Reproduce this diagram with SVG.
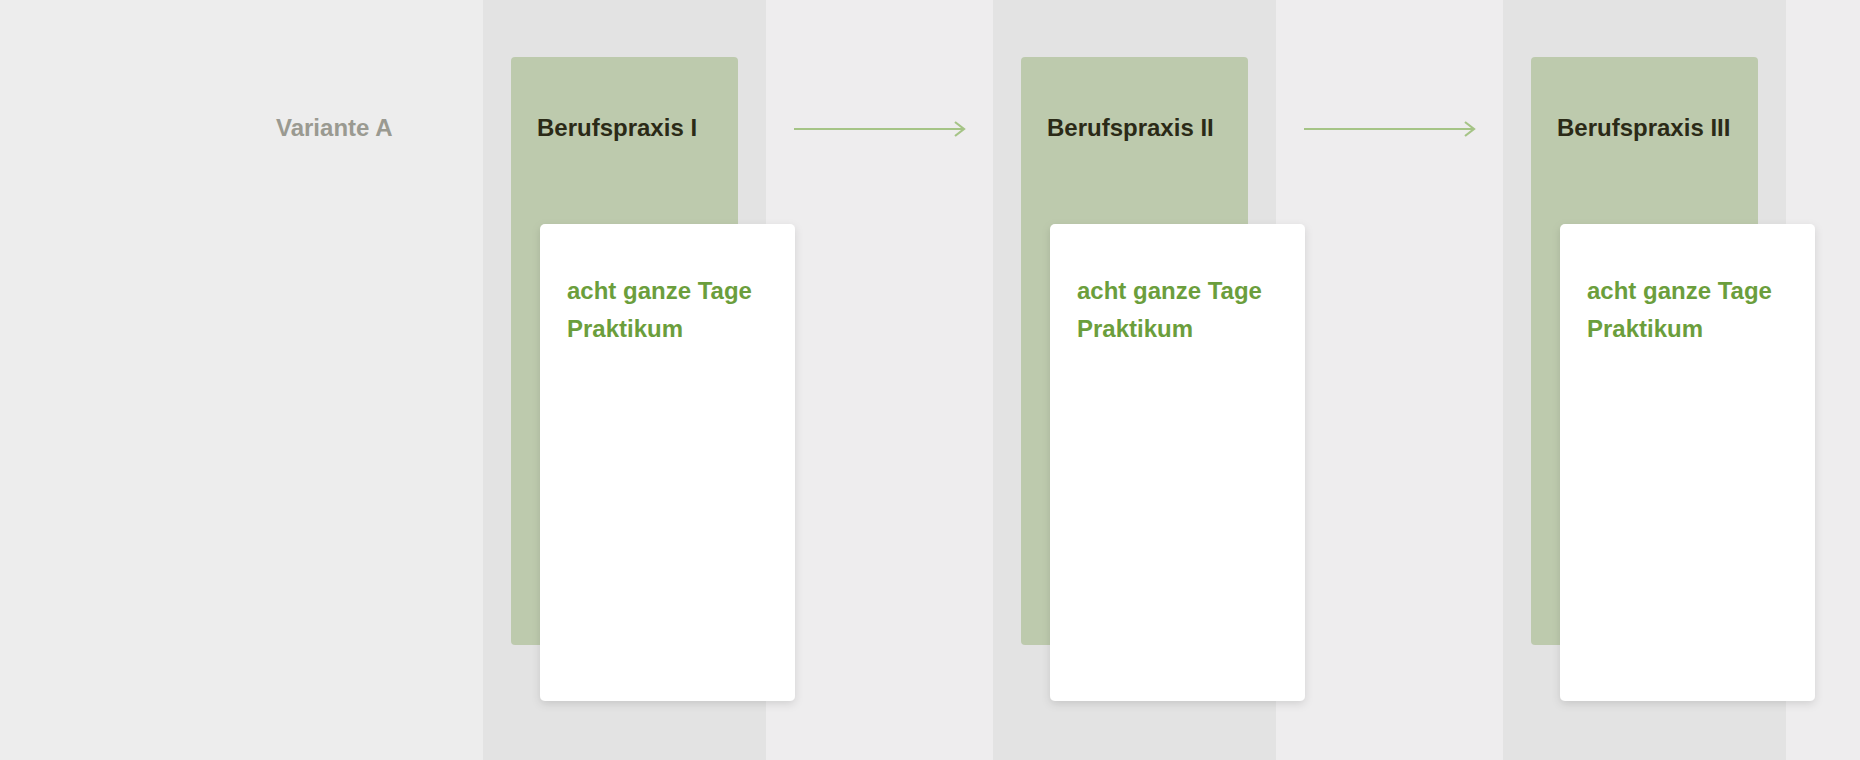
<svg xmlns="http://www.w3.org/2000/svg" width="1860" height="760" viewBox="0 0 1860 760">
<defs>
<style>
.band{fill:#e3e3e3}
.green{fill:#bdcaad}
.card{fill:#ffffff;filter:url(#sh)}
.title{font-family:"Liberation Sans",Arial,sans-serif;font-weight:bold;font-size:24px;fill:#2b2a17}
.body{font-family:"Liberation Sans",Arial,sans-serif;font-weight:bold;font-size:24px;fill:#6b9e3c}
.var{font-family:"Liberation Sans",Arial,sans-serif;font-weight:bold;font-size:24px;fill:#9a9a91}
.conn{stroke:#a5c486;stroke-width:2;fill:none}
</style>
<filter id="sh" x="-10%" y="-10%" width="120%" height="120%">
<feDropShadow dx="0" dy="3" stdDeviation="4" flood-color="#000000" flood-opacity="0.12"/>
</filter>
<marker id="arr" markerWidth="14" markerHeight="16" refX="11" refY="8" orient="auto" markerUnits="userSpaceOnUse">
<path d="M2,1 L11,8 L2,15" stroke="#a5c486" stroke-width="2.2" fill="none"/>
</marker>
</defs>
<rect x="0" y="0" width="1860" height="760" fill="#eeedee"/>
<rect x="0" y="0" width="483" height="760" fill="#ededed"/>
<g id="bands">
<rect class="band" x="483" y="0" width="283" height="760"/>
<rect class="band" x="993" y="0" width="283" height="760"/>
<rect class="band" x="1503" y="0" width="283" height="760"/>
</g>
<g id="label-variante">
<text class="var" x="276" y="136">Variante A</text>
</g>
<g id="node1">
<rect class="green" x="511" y="57" width="227" height="588" rx="4"/>
<text class="title" x="537" y="136">Berufspraxis I</text>
<rect class="card" x="540" y="224" width="255" height="477" rx="5"/>
<text class="body" x="567" y="299">acht ganze Tage</text>
<text class="body" x="567" y="337">Praktikum</text>
</g>
<g id="node2">
<rect class="green" x="1021" y="57" width="227" height="588" rx="4"/>
<text class="title" x="1047" y="136">Berufspraxis II</text>
<rect class="card" x="1050" y="224" width="255" height="477" rx="5"/>
<text class="body" x="1077" y="299">acht ganze Tage</text>
<text class="body" x="1077" y="337">Praktikum</text>
</g>
<g id="node3">
<rect class="green" x="1531" y="57" width="227" height="588" rx="4"/>
<text class="title" x="1557" y="136">Berufspraxis III</text>
<rect class="card" x="1560" y="224" width="255" height="477" rx="5"/>
<text class="body" x="1587" y="299">acht ganze Tage</text>
<text class="body" x="1587" y="337">Praktikum</text>
</g>
<g id="connectors">
<line class="conn" x1="794" y1="129" x2="964" y2="129" marker-end="url(#arr)"/>
<line class="conn" x1="1304" y1="129" x2="1474" y2="129" marker-end="url(#arr)"/>
</g>
</svg>
